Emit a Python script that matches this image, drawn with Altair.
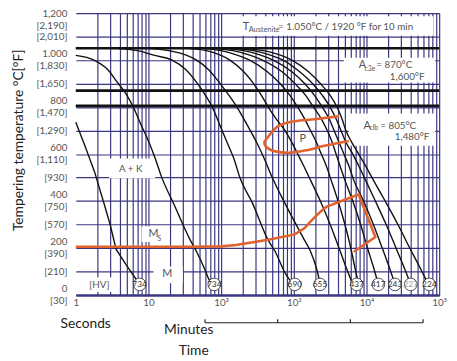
import altair as alt
import pandas as pd

GRID = "#3b3680"
INK = "#111111"
ORANGE = "#e2622b"
LABEL = "#555555"
FONT = "Lato"

# ---------------- axes ----------------
y_ticks = [0, 100, 200, 300, 400, 500, 600, 700, 800, 900, 1000, 1100, 1200]
c_labels = ["0", "", "200", "", "400", "", "600", "", "800", "", "1.000", "", "1,200"]
f_labels = ["[30]", "[210]", "[390]", "[570]", "[750]", "[930]", "[1,110]", "[1,290]",
            "[1,470]", "[1,650]", "[1,830]", "[2,010]", "[2,190]"]
x_grid = [1, 2, 3, 4, 5, 6, 7, 8, 9,
          10, 20, 30, 40, 50, 60, 70, 80, 90,
          100, 200, 300, 400, 500, 600, 700, 800, 900,
          1000, 2000, 3000, 4000, 5000, 6000, 7000, 8000, 9000,
          10000, 20000, 30000, 40000, 50000, 60000, 70000, 80000, 90000, 100000]
x_label_vals = [1, 10, 100, 1000, 10000, 100000]
x_labels = ["1", "10", "10²", "10³", "10⁴", "10⁵"]

# ---------------- cooling curves (time s, temperature °C) ----------------
B_t = [1, 1.32, 1.81, 2.47, 2.97, 3.58, 4.89, 6.68, 7.56]
B_T = [735, 640, 525, 385, 300, 195, 130, 70, 45]

A_t = [1, 1.81, 2.71, 3.70, 4.89, 6.27, 8.05, 10, 12.4, 15.0, 22.5, 37.0, 46.0, 58.9, 68.9, 80.5]
A_T = [1020, 999, 962, 907, 857, 796, 719, 656, 581, 506, 385, 238, 184, 113, 63, 45]

c690_t = [3.58, 7.11, 12.1, 21.1, 32.6, 46.0, 60.8, 75.6, 97.0, 120.5, 150, 181, 271, 432, 554, 756, 911, 1032]
c690_T = [1050, 1040, 1020, 1000, 960, 905, 850, 800, 720, 650, 580, 500, 390, 240, 185, 95, 58, 45]

c655_t = [9.70, 19.2, 33.7, 46.0, 66.8, 97.0, 128, 165, 232, 307, 393, 505, 756, 1365, 1698, 2046, 2317]
c655_T = [1050, 1040, 1020, 1000, 960, 900, 850, 800, 720, 650, 580, 500, 390, 240, 185, 115, 45]

slow_T = [1050, 1040, 1020, 1000, 950, 900, 850, 800, 750, 700, 650, 600, 550, 489, 400, 300, 200, 120, 45]
c5_t = [33.7, 62.7, 100, 132, 205, 279, 358, 445, 571, 756, 940, 1133, 1365, 1698, 2317, 3163, 4186, 5205, 6472]
c6_t = [53.7, 100, 170, 247, 432, 647, 883, 1133, 1408, 1698, 2046, 2391, 2793, 3263, 4058, 5046, 6081, 6888, 7801]
c7_t = [73.3, 145, 254, 370, 689, 1032, 1453, 1864, 2391, 2881, 3367, 3813, 4318, 5046, 6472, 8302, 10316, 12435, 14529]
c8_t = [100, 205, 358, 521, 940, 1408, 1923, 2466, 3067, 3583, 4186, 4891, 5714, 6677, 9114, 12435, 16455, 20461, 24662]
c9_t = [137, 279, 489, 711, 1205, 1807, 2466, 3163, 3813, 4455, 5205, 6472, 7801, 9699, 13234, 18637, 25441, 32634, 40578]
c10_t = [186, 381, 668, 940, 1595, 2317, 3163, 3933, 4596, 5205, 6274, 7801, 9699, 12435, 18066, 27075, 39334, 53695, 71053]

# ---------------- transformation boundaries ----------------
ms_t = [1, 40, 100, 160, 445, 1032, 1408, 1923, 2391, 2793, 7801, 13234, 6677]
ms_T = [205, 205, 207, 213, 235, 258, 285, 330, 358, 375, 428, 247, 184]
p_t = [4186, 1923, 1032, 608, 432, 393, 445, 756, 1408, 2625, 5714]
p_T = [761, 748, 740, 719, 669, 648, 623, 606, 615, 635, 656]

# critical temperatures
crit_T = [1050, 870, 805]

# hardness circles
hv_t = [7.56, 80.5, 1032, 2290, 7330, 14530, 24660, 40580, 73300]
hv_T = [45, 45, 45, 45, 45, 45, 45, 45, 45]
hv_lbl = ["734", "734", "690", "655", "437", "417", "243", "227", "224"]
hv_col = ["#333", "#333", "#333", "#333", "#333", "#333", "#333", "#999", "#333"]

# white label boxes
box_t1 = [170, 4891, 5714, 2.88, 8.05, 11.7, 1.32, 1032]
box_t2 = [83000, 88347, 88347, 12.4, 17.5, 29.7, 3.47, 1698]
box_T1 = [1104, 905, 635, 497, 226, 50, 13, 645]
box_T2 = [1187, 1010, 773, 581, 293, 121, 75, 690]

# texts
ctr_txt = ["A + K", "M", "S", "M", "[HV]", "P", "Seconds", "Minutes", "Time"]
ctr_t = [5.71, 11.7, 14.1, 18.1, 2.11, 1323, 1.37, 35.8, 41.9]
ctr_T = [537, 259, 240, 88, 43, 665, -125, -150, -238]
ctr_fs = [10, 11, 7, 11, 10, 11, 14, 14, 14]
ctr_col = [LABEL, LABEL, LABEL, LABEL, LABEL, LABEL, "#222", "#222", "#222"]

left_txt = ["T", "Austenite", "= 1.050°C / 1920 °F for 10 min",
            "A", "c3e", "= 870°C", "A", "clb", "= 805°C"]
left_t = [198, 239, 608, 7801, 9402, 13652, 9114, 10979, 15462]
left_T = [1141, 1129, 1141, 977, 964, 977, 719, 709, 719]
left_fs = [11, 7.5, 10, 11, 7, 10, 11, 7, 10]

right_txt = ["1,600°F", "1,480°F"]
right_t = [62736, 73299]
right_T = [928, 673]
right_fs = [10, 10]

bracket_t = [60, 600, 6000, 60000]

# ---------------- build tables ----------------
def path_df(items):
    rows = []
    for name, ts, Ts in items:
        for i, (a, b) in enumerate(zip(ts, Ts)):
            rows.append({"curve": name, "t": a, "T": b, "o": i})
    return pd.DataFrame(rows)

fast_df = path_df([("B", B_t, B_T)])
curves_df = path_df([("A", A_t, A_T), ("690", c690_t, c690_T), ("655", c655_t, c655_T),
                     ("c5", c5_t, slow_T), ("c6", c6_t, slow_T), ("c7", c7_t, slow_T),
                     ("c8", c8_t, slow_T), ("c9", c9_t, slow_T), ("c10", c10_t, slow_T)])
ms_df = path_df([("ms", ms_t, ms_T)])
p_df = path_df([("p", p_t, p_T)])
crit_df = pd.DataFrame({"t": [1] * len(crit_T), "t2": [100000] * len(crit_T), "T": crit_T})
hv_df = pd.DataFrame({"t": hv_t, "T": hv_T, "txt": hv_lbl, "col": hv_col})
box_df = pd.DataFrame({"t": box_t1, "t2": box_t2, "T": box_T1, "T2": box_T2})
ctr_df = pd.DataFrame({"t": ctr_t, "T": ctr_T, "txt": ctr_txt, "fs": ctr_fs, "col": ctr_col})
left_df = pd.DataFrame({"t": left_t, "T": left_T, "txt": left_txt, "fs": left_fs})
right_df = pd.DataFrame({"t": right_t, "T": right_T, "txt": right_txt, "fs": right_fs})
br_h = pd.DataFrame({"t": [bracket_t[0]], "t2": [bracket_t[-1]], "T": [-118]})
br_v = pd.DataFrame({"t": bracket_t, "T": [-118] * 4, "T2": [-103] * 4})

# ---------------- scales & axes ----------------
xs = alt.Scale(type="log", domain=[1, 100000], nice=False)
ys = alt.Scale(domain=[0, 1200], nice=False, zero=False)

x_expr = " : ".join(f"datum.value == {v} ? '{l}'" for v, l in zip(x_label_vals, x_labels)) + " : ''"
c_arr = "[" + ",".join(f"'{s}'" for s in c_labels) + "]"
f_arr = "[" + ",".join(f"'{s}'" for s in f_labels) + "]"
idx = "round(datum.value/100)"
y_expr = f"{c_arr}[{idx}] == '' ? {f_arr}[{idx}] : [{c_arr}[{idx}], {f_arr}[{idx}]]"

x_axis = alt.Axis(values=x_grid, labelExpr=x_expr, grid=True, gridColor=GRID, gridWidth=1.2,
                  gridOpacity={"condition": {"test": "datum.value == 1", "value": 0}, "value": 1},
                  ticks=False, domain=True, domainColor=GRID, domainWidth=2.5,
                  labelPadding=3, labelFlush=False, labelOverlap=False,
                  labelFont=FONT, labelFontSize=10, labelColor=LABEL)
y_axis = alt.Axis(values=y_ticks, labelExpr=y_expr, grid=True, gridColor=GRID, gridWidth=1.2,
                  ticks=False, domain=False, labelPadding=9, labelLineHeight=13,
                  labelOffset={"condition": {"test": "round(datum.value) % 200 == 0 && datum.value < 1150",
                                             "value": -7}, "value": 0},
                  labelFont=FONT, labelFontSize=10, labelColor=LABEL,
                  labelOverlap=False, labelFlush=False,
                  titleFont=FONT, titleFontSize=14, titleFontWeight="normal", titleColor="#222",
                  titleX=-54, titleY=129, titleAlign="center", titleBaseline="alphabetic")
YTITLE = "Tempering temperature °C[°F]"


def X(f="t"):
    return alt.X(f, type="quantitative", scale=xs, axis=x_axis, title=None)


def Y(f="T"):
    return alt.Y(f, type="quantitative", scale=ys, axis=y_axis, title=YTITLE)


boxes = alt.Chart(box_df).mark_rect(fill="white", opacity=1).encode(
    x=X(), x2="t2", y=Y(), y2="T2")
crit = alt.Chart(crit_df).mark_rule(color=INK, strokeWidth=2.6).encode(x=X(), x2="t2", y=Y())
fast = alt.Chart(fast_df).mark_line(color=INK, strokeWidth=1.4).encode(
    x=X(), y=Y(), detail="curve:N", order="o:Q")
curves = alt.Chart(curves_df).mark_line(color=INK, strokeWidth=1.4, interpolate="monotone").encode(
    x=X(), y=Y(), detail="curve:N", order="o:Q")
ms = alt.Chart(ms_df).mark_line(color=ORANGE, strokeWidth=2.6).encode(
    x=X(), y=Y(), detail="curve:N", order="o:Q")
pz = alt.Chart(p_df).mark_line(color=ORANGE, strokeWidth=2.6, interpolate="catmull-rom").encode(
    x=X(), y=Y(), detail="curve:N", order="o:Q")
circles = alt.Chart(hv_df).mark_point(shape="circle", size=165, fill="white", fillOpacity=1,
                                      stroke="#3a3a3a", strokeWidth=0.9, opacity=1).encode(x=X(), y=Y())
circle_txt = alt.Chart(hv_df).mark_text(font=FONT, fontSize=8.5, baseline="middle").encode(
    x=X(), y=Y(), text="txt:N", color=alt.Color("col:N", scale=None))
ctr = alt.Chart(ctr_df).mark_text(font=FONT, align="center", baseline="middle").encode(
    x=X(), y=Y(), text="txt:N", size=alt.Size("fs:Q", scale=None), color=alt.Color("col:N", scale=None))
left = alt.Chart(left_df).mark_text(font=FONT, align="left", baseline="middle", color=LABEL).encode(
    x=X(), y=Y(), text="txt:N", size=alt.Size("fs:Q", scale=None))
right = alt.Chart(right_df).mark_text(font=FONT, align="right", baseline="middle", color=LABEL).encode(
    x=X(), y=Y(), text="txt:N", size=alt.Size("fs:Q", scale=None))
brh = alt.Chart(br_h).mark_rule(color="#222", strokeWidth=1.2).encode(x=X(), x2="t2", y=Y())
brv = alt.Chart(br_v).mark_rule(color="#222", strokeWidth=1.2).encode(x=X(), y=Y(), y2="T2")

chart = alt.layer(boxes, crit, fast, curves, ms, pz, circles, circle_txt, ctr, left, right, brh, brv).properties(
    width=370, height=287,
    padding={"left": 69, "top": 2, "right": 10, "bottom": 64},
    autosize=alt.AutoSizeParams(type="none"),
    background="white",
).configure_view(strokeWidth=0)

chart.save("out.html", embed_options={"renderer": "svg", "actions": False})
